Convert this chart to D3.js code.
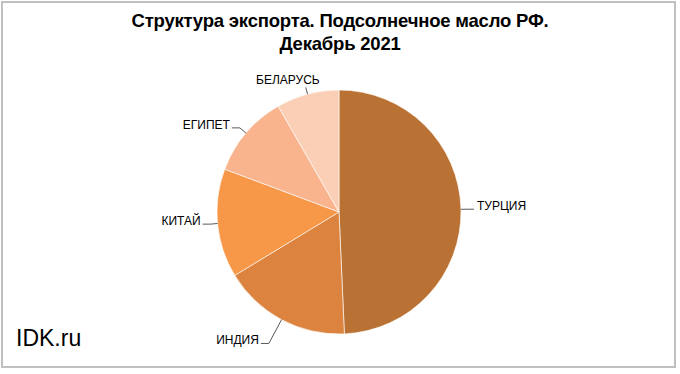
<!DOCTYPE html>
<html>
<head>
<meta charset="utf-8">
<script src="https://cdn.jsdelivr.net/npm/d3@7"></script>
<style>
	body { margin: 0; background: #fff; }
	svg { display: block; font-family: 'Liberation Sans', Arial, sans-serif; }
	.title { font-size: 18.5px; font-weight: bold; fill: #000; }
	.label { font-size: 12px; fill: #000; }
	.leader { fill: none; stroke: #595959; stroke-width: 1; }
</style>
</head>
<body>
<svg width="680" height="374"></svg>
<script>
const countries = ['ТУРЦИЯ', 'ИНДИЯ', 'КИТАЙ', 'ЕГИПЕТ', 'БЕЛАРУСЬ'];
const shares = [49.3, 17.0, 14.4, 11.0, 8.3];
const colors = ['#BA7234', '#DC843F', '#F79748', '#F9B48E', '#FBCEB6'];
const titleLines = ['Структура экспорта. Подсолнечное масло РФ.', 'Декабрь 2021'];

const svg = d3.select('svg');
const width = +svg.attr('width');
const height = +svg.attr('height');

// frame
svg.append('rect')
	.attr('x', 2).attr('y', 2)
	.attr('width', 673).attr('height', 365)
	.attr('fill', '#fff')
	.attr('stroke', '#c0c0c0')
	.attr('stroke-width', 2);

svg.append('text')
	.attr('class', 'title')
	.attr('text-anchor', 'middle')
	.selectAll('tspan')
	.data(titleLines)
	.enter()
	.append('tspan')
	.attr('x', 340)
	.attr('y', (d, i) => 27 + i * 23)
	.attr('letter-spacing', -0.2)
	.text(d => d);

svg.append('text')
	.attr('x', 16).attr('y', 346)
	.style('font-size', '23px')
	.text('IDK.ru');

const cx = 339, cy = 212, radius = 122;
const data = countries.map((c, i) => ({ name: c, value: shares[i], color: colors[i] }));

const pie = d3.pie().value(d => d.value).sort(null);
const arcs = pie(data);
const arc = d3.arc().innerRadius(0).outerRadius(radius);

const g = svg.append('g').attr('transform', `translate(${cx},${cy})`);

g.selectAll('path.slice')
	.data(arcs)
	.enter()
	.append('path')
	.attr('class', 'slice')
	.attr('d', arc)
	.attr('fill', d => d.data.color)
	.attr('stroke', '#fff')
	.attr('stroke-width', 0.6);

// leader lines + labels
const leaderLen = [5, 27, 7, 8, 7];
const pt = (a, r) => [r * Math.sin(a), -r * Math.cos(a)];

arcs.forEach((d, i) => {
	const mid = (d.startAngle + d.endAngle) / 2;
	const p0 = pt(mid, radius);
	const p1 = pt(mid, radius + leaderLen[i]);
	const top = Math.abs(Math.sin(mid)) < 0.3 && Math.cos(mid) > 0;
	const right = Math.sin(mid) > 0;
	let pts, tx, ty, anchor;
	if (top) {
		pts = [p0, p1];
		tx = p1[0] + 14; ty = p1[1] - 3; anchor = 'end';
	} else {
		const p2 = [p1[0] + (right ? 8 : -8), p1[1]];
		pts = [p0, p1, p2];
		tx = p2[0] + (right ? 3 : -2); ty = p2[1] + 1; anchor = right ? 'start' : 'end';
	}
	g.append('path').attr('class', 'leader').attr('d', d3.line()(pts));
	g.append('text')
		.attr('class', 'label')
		.attr('x', tx).attr('y', ty)
		.attr('text-anchor', anchor)
		.text(d.data.name);
});
</script>
</body>
</html>
